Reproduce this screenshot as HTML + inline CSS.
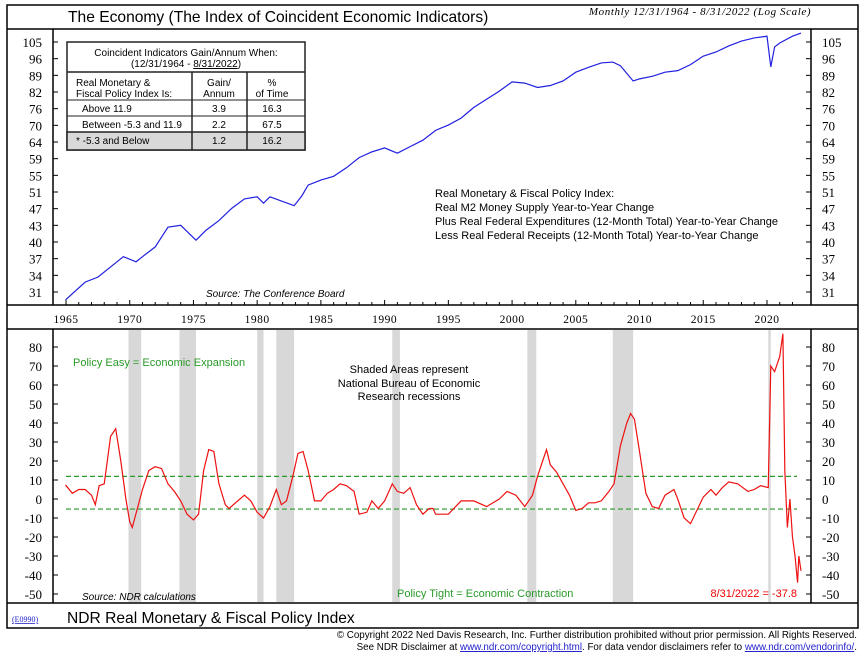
<!DOCTYPE html>
<html><head><meta charset="utf-8"><style>
body{margin:0;background:#fff}
svg{display:block}
text{font-family:"Liberation Sans",sans-serif}
.s{font-family:"Liberation Serif",serif}
</style></head><body>
<svg id="c" width="865" height="660" viewBox="0 0 865 660" xmlns="http://www.w3.org/2000/svg">
<g id="frame" fill="none" stroke="#000" stroke-width="1.5">
<rect x="7" y="5" width="851" height="623"/>
<line x1="7" y1="29" x2="858" y2="29"/>
<line x1="7" y1="305" x2="858" y2="305"/>
<line x1="7" y1="329" x2="858" y2="329"/>
<line x1="7" y1="603" x2="858" y2="603"/>
<line x1="53" y1="29" x2="53" y2="305"/>
<line x1="811" y1="29" x2="811" y2="305"/>
<line x1="53" y1="329" x2="53" y2="603"/>
<line x1="811" y1="329" x2="811" y2="603"/>
</g>
<text x="68" y="22" font-size="15.6">The Economy (The Index of Coincident Economic Indicators)</text>
<text x="700" y="15" font-size="11" font-style="italic" class="s" text-anchor="middle" letter-spacing="0.6">Monthly 12/31/1964 - 8/31/2022 (Log Scale)</text>
<g id="recess"></g>
<g id="axes"></g>
<g id="table" font-size="10">
<rect x="67" y="42" width="238" height="108" fill="#fff" stroke="#222" stroke-width="1.5"/>
<rect x="67" y="132" width="238" height="18" fill="#d9d9d9" stroke="#222" stroke-width="1.5"/>
<line x1="67" y1="72" x2="305" y2="72" stroke="#222" stroke-width="1.5"/>
<line x1="67" y1="100" x2="305" y2="100" stroke="#222"/>
<line x1="67" y1="116" x2="305" y2="116" stroke="#222"/>
<line x1="192" y1="72" x2="192" y2="150" stroke="#222" stroke-width="1.5"/>
<line x1="247" y1="72" x2="247" y2="150" stroke="#222" stroke-width="1.5"/>
<text x="186" y="56" text-anchor="middle">Coincident Indicators Gain/Annum When:</text>
<text x="186" y="67" text-anchor="middle">(12/31/1964 - <tspan text-decoration="underline">8/31/2022</tspan>)</text>
<text x="76" y="86">Real Monetary &amp;</text>
<text x="76" y="97">Fiscal Policy Index Is:</text>
<text x="219" y="86" text-anchor="middle">Gain/</text><text x="219" y="97" text-anchor="middle">Annum</text>
<text x="272" y="86" text-anchor="middle">%</text><text x="272" y="97" text-anchor="middle">of Time</text>
<text x="82" y="112">Above 11.9</text><text x="219" y="112" text-anchor="middle">3.9</text><text x="272" y="112" text-anchor="middle">16.3</text>
<text x="82" y="128">Between -5.3 and 11.9</text><text x="219" y="128" text-anchor="middle">2.2</text><text x="272" y="128" text-anchor="middle">67.5</text>
<text x="76" y="144">* -5.3 and Below</text><text x="219" y="144" text-anchor="middle">1.2</text><text x="272" y="144" text-anchor="middle">16.2</text>
</g>
<g font-size="11">
<text x="435" y="197">Real Monetary &amp; Fiscal Policy Index:</text>
<text x="435" y="211">Real M2 Money Supply Year-to-Year Change</text>
<text x="435" y="225">Plus Real Federal Expenditures (12-Month Total) Year-to-Year Change</text>
<text x="435" y="239">Less Real Federal Receipts (12-Month Total) Year-to-Year Change</text>
</g>
<text x="206" y="297" font-size="10" font-style="italic">Source: The Conference Board</text>
<text x="82" y="600" font-size="10" font-style="italic">Source: NDR calculations</text>
<text x="73" y="366" font-size="11" fill="#2a9a2a">Policy Easy = Economic Expansion</text>
<text x="397" y="597" font-size="11" fill="#2a9a2a">Policy Tight = Economic Contraction</text>
<g font-size="11" text-anchor="middle">
<text x="409" y="373">Shaded Areas represent</text>
<text x="409" y="387">National Bureau of Economic</text>
<text x="409" y="400">Research recessions</text>
</g>
<text x="797" y="597" font-size="11" fill="#e00" text-anchor="end">8/31/2022 = -37.8</text>
<g id="series"></g>
<text x="12" y="622" font-size="8" fill="#22c" text-decoration="underline" class="s">(E0990)</text>
<text x="67" y="623" font-size="15.6">NDR Real Monetary &amp; Fiscal Policy Index</text>
<g font-size="9.8" text-anchor="end">
<text x="857" y="638">© Copyright 2022 Ned Davis Research, Inc.  Further distribution prohibited without prior permission.  All Rights Reserved.</text>
<text x="857" y="650">See NDR Disclaimer at <tspan fill="#22c" text-decoration="underline">www.ndr.com/copyright.html</tspan>. For data vendor disclaimers refer to <tspan fill="#22c" text-decoration="underline">www.ndr.com/vendorinfo/</tspan>.</text>
</g>
</svg>
<script>
const coiYears=[1964.96,1966.5,1967.5,1968.5,1969.5,1970.5,1971,1972,1973,1974,1975.2,1976,1977,1978,1979,1980,1980.5,1981,1982.9,1983.5,1984,1985,1986,1987,1988,1989,1990,1991,1992,1993,1994,1995,1996,1997,1998,1999,2000,2001,2002,2003,2004,2005,2006,2007,2007.9,2008.5,2009.5,2010,2011,2012,2013,2014,2015,2016,2017,2018,2019,2020.0,2020.3,2020.6,2021,2022,2022.67];
const coiValues=[29.8,32.5,33.3,35.0,36.8,35.9,36.8,38.6,42.5,42.9,39.9,41.9,43.9,46.6,48.8,49.3,47.8,49.3,47.2,49.5,52.2,53.5,54.5,56.8,59.7,61.4,62.6,61,63,65,68.2,70,72.4,76.3,79.4,82.6,86.4,85.9,84.1,84.9,86.8,90.6,92.8,94.8,95.2,93.5,86.8,87.7,88.8,90.6,91.3,94,98,100,103,105.5,107.1,108,93,102.5,104.5,108,109.7];
const coiTickLabels=["105","96","89","82","76","70","64","59","55","51","47","43","40","37","34","31"];
const polYears=[1964.96,1965.5,1966,1966.5,1967,1967.3,1967.6,1968,1968.5,1968.9,1969.3,1969.7,1970,1970.2,1970.6,1971,1971.5,1972,1972.5,1973,1973.5,1974,1974.5,1975,1975.4,1975.8,1976.2,1976.6,1977,1977.5,1977.8,1978.3,1979,1979.5,1980,1980.5,1981,1981.5,1981.9,1982.3,1982.8,1983.2,1983.6,1984,1984.5,1985,1985.5,1986,1986.5,1987,1987.6,1988,1988.6,1989,1989.5,1990,1990.6,1991,1991.5,1992,1992.5,1993,1993.5,1993.8,1994,1995,1996,1997,1998,1999,1999.6,2000.3,2001,2001.6,2002,2002.4,2002.7,2003,2003.5,2004,2004.5,2005,2005.5,2006,2006.5,2007,2007.6,2008,2008.5,2009,2009.3,2009.6,2010,2010.5,2011,2011.5,2012,2012.7,2013,2013.5,2014,2014.5,2015,2015.6,2016,2016.5,2017,2017.7,2018.5,2019,2019.5,2020.1,2020.3,2020.6,2021,2021.25,2021.4,2021.6,2021.8,2022,2022.2,2022.4,2022.5,2022.67];
const polValues=[7.4,3,5,5,2,-3,7,8,33,37,20,0,-12,-15,-5,5,15,17,16,8,4,-1,-8,-11,-8,15,26,25,8,-3,-5,-2,2,-1,-7,-10,-4,5,-3,-1,12,24,25,15,-1,-1,3,5,8,7,4,-8,-7,-1,-5,-1,8,4,3,6,-3,-8,-5,-5,-8,-8,-1,-1,-4,0,4,2,-4,2,12,20,26,18,14,8,2,-6,-5,-2,-2,-1,4,8,28,40,45,42,25,3,-4,-5,2,5,0,-10,-13,-6,1,5,2,6,9,8,4,5,7,6,70,67,75,87,15,-15,0,-20,-30,-44,-30,-37.8];
const polTicks=[80,70,60,50,40,30,20,10,0,-10,-20,-30,-40,-50];
const recStart=[1969.9,1973.9,1980.0,1981.5,1990.6,2001.2,2007.9,2020.1];
const recEnd=[1970.9,1975.2,1980.5,1982.9,1991.2,2001.9,2009.5,2020.3];
const yearLabels=[1965,1970,1975,1980,1985,1990,1995,2000,2005,2010,2015,2020];
const thresholds=[11.9,-5.3];

const NS="http://www.w3.org/2000/svg";
const xS=y=>66+(y-1965)*12.745;
const lt=Math.log(105),lb=Math.log(105)-15*Math.log(1.0848);
const yTop=v=>42+(lt-Math.log(v))/(lt-lb)*250;
const yBot=v=>499-v*1.9;
function mk(tag,attrs,parent){const e=document.createElementNS(NS,tag);for(const k in attrs)e.setAttribute(k,attrs[k]);parent.appendChild(e);return e;}
const rg=document.getElementById('recess'),ax=document.getElementById('axes'),sg=document.getElementById('series');
recStart.forEach((s,i)=>{const r=mk('rect',{x:xS(s),y:330,width:xS(recEnd[i])-xS(s),height:272,fill:'#d8d8d8'},rg);

});
coiTickLabels.forEach((l,i)=>{const v=105/Math.pow(1.0848,i),y=yTop(v);
mk('line',{x1:53,y1:y,x2:58,y2:y,stroke:'#000'},ax);mk('line',{x1:806,y1:y,x2:811,y2:y,stroke:'#000'},ax);
const t=mk('text',{x:42,y:y+5,'font-size':13,'text-anchor':'end',class:'s'},ax);t.textContent=l;


const t2=mk('text',{x:822,y:y+5,'font-size':13,class:'s'},ax);t2.textContent=l;

});
polTicks.forEach(v=>{const y=yBot(v);
mk('line',{x1:53,y1:y,x2:58,y2:y,stroke:'#000'},ax);mk('line',{x1:806,y1:y,x2:811,y2:y,stroke:'#000'},ax);
const t=mk('text',{x:42,y:y+5,'font-size':13,'text-anchor':'end',class:'s'},ax);t.textContent=v;


const t2=mk('text',{x:822,y:y+5,'font-size':13,class:'s'},ax);t2.textContent=v;

});
for(let yr=1965;yr<=2022;yr++){const x=xS(yr);mk('line',{x1:x,y1:305,x2:x,y2:yr%5==0?300:302,stroke:'#000'},ax);}
yearLabels.forEach(yr=>{const t=mk('text',{x:xS(yr),y:323,'font-size':11.5,'text-anchor':'middle',class:'s','letter-spacing':'0.5'},ax);t.textContent=yr;

});
thresholds.forEach(v=>{const l=mk('line',{x1:66,y1:yBot(v),x2:797,y2:yBot(v),stroke:'#2a9a2a','stroke-dasharray':'5,3','stroke-width':1.2},sg);

});
const p1=mk('polyline',{points:coiYears.map((y,i)=>xS(y)+','+yTop(coiValues[i])).join(' '),fill:'none',stroke:'#2020e0','stroke-width':1.2},sg);


const p2=mk('polyline',{points:polYears.map((y,i)=>xS(y)+','+yBot(polValues[i])).join(' '),fill:'none',stroke:'#ee1111','stroke-width':1.2},sg);


</script>
</body></html>
